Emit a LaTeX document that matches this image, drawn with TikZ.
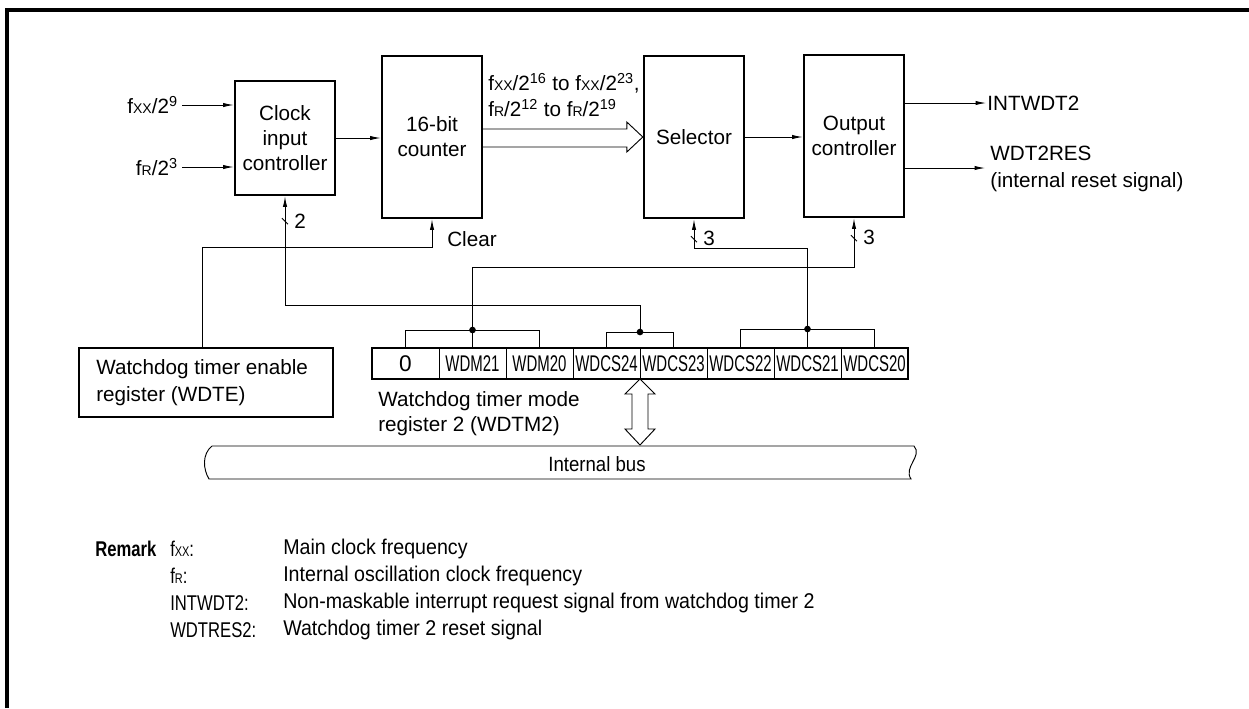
\documentclass[tikz,border=0pt]{standalone}
\usepackage{fontspec}
\setmainfont{Liberation Sans}
\usepackage{graphicx}
\usetikzlibrary{arrows.meta,calc}
\newcommand{\fxx}{f{\fontsize{10.5}{11}\selectfont XX}}
\newcommand{\fRR}{f{\fontsize{10.5}{11}\selectfont R}}
\newcommand{\cnd}[1]{\scalebox{0.66}[1]{#1}}
\newcommand{\rmk}[1]{\scalebox{0.92}[1]{#1}}
\newcommand{\rml}[1]{\scalebox{0.78}[1]{#1}}
\begin{document}
\begin{tikzpicture}[x=0.75pt,y=-0.75pt,
  font=\fontsize{15.5}{18.75}\selectfont,
  box/.style={draw, line width=1.8pt, inner sep=0pt, align=center},
  wire/.style={line width=0.7pt},
  arr/.style={wire, -{Latex[length=8pt,width=3.2pt]}},
  lbl/.style={inner sep=0pt, anchor=west},
  rtext/.style={inner sep=0pt, anchor=west, font=\fontsize{16}{18.75}\selectfont},
  cell/.style={draw, line width=0.6pt, minimum width=50.25pt, minimum height=23.25pt, inner sep=0pt, outer sep=0pt, font=\fontsize{17}{18}\selectfont},
  dot/.style={circle, fill, inner sep=0pt, minimum size=5pt}]
\useasboundingbox (0,0) rectangle (1249,708);
\fill[white] (0,0) rectangle (1249,708);
% frame
\draw[line width=2.3pt] (7,708) -- (7,10) -- (1249,10);

% blocks
\node[box, minimum width=75pt, minimum height=85.5pt] (clk) at (285,138) {Clock\\input\\controller};
\node[box, minimum width=75pt, minimum height=121.5pt] (cnt) at (432,137) {16-bit\\counter};
\node[box, minimum width=75pt, minimum height=121.5pt] (sel) at (694,137) {Selector};
\node[box, minimum width=75pt, minimum height=121.5pt] (out) at (854,136) {Output\\controller};

% inputs
\coordinate (i1) at (182,105);
\coordinate (i2) at (182,167);
\node[inner sep=0pt, anchor=east] (fin1) at ($(i1)+(-4,0)$) {\fxx/2\textsuperscript{9}};
\node[inner sep=0pt, anchor=east] (fin2) at ($(i2)+(-4,0)$) {\fRR/2\textsuperscript{3}};
\draw[arr] (i1) -- (i1 -| clk.west);
\draw[arr] (i2) -- (i2 -| clk.west);

% clock -> counter
\draw[arr] (clk.east) -- (clk.east -| cnt.west);

% hollow arrow counter -> selector
\draw[wire, line join=miter] ($(cnt.east)+(0,-8)$) -- ($(sel.west)+(-16,-8)$) -- ($(sel.west)+(-16,-15)$)
  -- (sel.west) -- ($(sel.west)+(-16,15)$) -- ($(sel.west)+(-16,10)$) -- ($(cnt.east)+(0,10)$);
\node[lbl] (fr1) at (488,83) {\fxx/2\textsuperscript{16} to \fxx/2\textsuperscript{23},};
\node[lbl] (fr2) at (488,108) {\fRR/2\textsuperscript{12} to \fRR/2\textsuperscript{19}};

% selector -> output
\draw[arr] (sel.east) -- (sel.east -| out.west);

% outputs
\coordinate (o1) at ($(out.east)+(0,-33)$);
\coordinate (o2) at ($(out.east)+(0,32)$);
\coordinate (o1e) at ($(o1)+(81,0)$);
\coordinate (o2e) at ($(o2)+(80,0)$);
\draw[arr] (o1) -- (o1e);
\draw[arr] (o2) -- (o2e);
\node[lbl] (intw) at ($(o1e)+(1,0)$) {INTWDT2};
\node[lbl, align=left, font=\fontsize{15.5}{20.25}\selectfont] (wres) at ($(o2e)+(5,1)$) {WDT2RES\\(internal reset signal)};

% WDTE
\node[box, minimum width=190.5pt, minimum height=51.75pt] (wdte) at (206,382.5) {};
\node[lbl, align=left, font=\fontsize{15.5}{20.25}\selectfont] (wdtet) at (96,383) {Watchdog timer enable\\register (WDTE)};

% register cells
\node[cell] (c0) at (405.5,363.5) {0};
\foreach \t [count=\i from 1] in {WDM21,WDM20,WDCS24,WDCS23,WDCS22,WDCS21,WDCS20}
  \node[cell] (c\i) at ({405.5+67*\i},363.5) {\cnd{\t}};
\draw[line width=1.8pt] (c0.north west) rectangle (c7.south east);
\node[lbl, align=left] (modet) at (378,414) {Watchdog timer mode\\register 2 (WDTM2)};

% bracket A -> output controller
\coordinate (dA) at ($(c1.north)+(0,-18)$);
\draw[wire] (c0.north) -- (c0.north |- dA) -- (c2.north |- dA) -- (c2.north);
\draw[wire] (c1.north) -- (dA);
\node[dot] at (dA) {};
\draw[arr] (dA) -- ($(dA)+(0,-63)$) -| (out.south);

% bracket B -> clock input controller
\coordinate (dB) at ($(c3.north east)+(0,-16)$);
\draw[wire] (c3.north) -- (c3.north |- dB) -- (c4.north |- dB) -- (c4.north);
\node[dot] at (dB) {};
\draw[arr] (dB) -- ($(dB)+(0,-27)$) -| (clk.south);

% bracket C -> selector
\coordinate (dC) at ($(c6.north)+(0,-19)$);
\draw[wire] (c5.north) -- (c5.north |- dC) -- (c7.north |- dC) -- (c7.north);
\draw[wire] (c6.north) -- (dC);
\node[dot] at (dC) {};
\draw[arr] (dC) -- ($(dC)+(0,-81)$) -| (sel.south);

% clear
\coordinate (wt) at ($(wdte.north)+(-4,0)$);
\draw[arr] (wt) -- ($(wt)+(0,-99)$) -| (cnt.south);
\node[lbl] (clr) at ($(cnt.south)+(15,20)$) {Clear};

% bus width ticks
\draw[wire] ($(clk.south)+(-3,22)$) -- ($(clk.south)+(3,28)$);
\node[lbl] (n2) at ($(clk.south)+(9,25)$) {2};
\draw[wire] ($(sel.south)+(-3,17)$) -- ($(sel.south)+(3,23)$);
\node[lbl] (n3a) at ($(sel.south)+(9,19)$) {3};
\draw[wire] ($(out.south)+(-3,17)$) -- ($(out.south)+(3,23)$);
\node[lbl] (n3b) at ($(out.south)+(9,19)$) {3};

% bidirectional hollow arrow
\coordinate (ba) at (c3.south east);
\draw[wire, fill=white, line join=miter] (ba) -- ++(15,15) -- ++(-7,0) -- ++(0,35) -- ++(7,0) -- ++(-15,16)
  -- ++(-15,-16) -- ++(7,0) -- ++(0,-35) -- ++(-7,0) -- cycle;

% internal bus
\coordinate (TL) at (212,446);
\coordinate (TR) at (914,446);
\coordinate (BR) at (911,479);
\coordinate (BL) at (209,479);
\draw[wire] (TL) -- (TR) .. controls ($(TR)+(9,10)$) and ($(BR)+(-8,-12)$) .. (BR) -- (BL)
  .. controls ($(BL)+(-6,-10)$) and ($(TL)+(-10,8)$) .. (TL);
\node (busl) at (597,464) {\scalebox{0.9}[1]{Internal bus}};

% remark
\node[rtext, font=\fontsize{16}{18.75}\selectfont\bfseries] (rem) at (95,549) {\rml{Remark}};
\node[rtext] (r1a) at (170,549) {\rml{\fxx:}};
\node[rtext] (r1b) at (283,549) {\rmk{Main clock frequency}};
\node[rtext] (r2a) at (170,576) {\rml{\fRR:}};
\node[rtext] (r2b) at (283,576) {\rmk{Internal oscillation clock frequency}};
\node[rtext] (r3a) at (170,603) {\rml{INTWDT2:}};
\node[rtext] (r3b) at (283,603) {\rmk{Non-maskable interrupt request signal from watchdog timer 2}};
\node[rtext] (r4a) at (170,630) {\rml{WDTRES2:}};
\node[rtext] (r4b) at (283,630) {\rmk{Watchdog timer 2 reset signal}};
\end{tikzpicture}
\end{document}
